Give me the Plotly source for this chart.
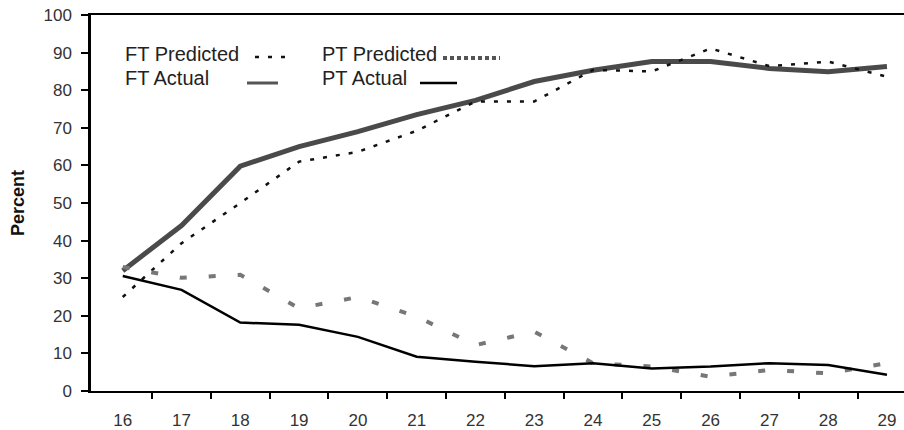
import plotly.graph_objects as go

ages = [16, 17, 18, 19, 20, 21, 22, 23, 24, 25, 26, 27, 28, 29]
tick_labels = [str(a) for a in ages]
ft_predicted = [25, 39.3, 50, 61, 63.6, 69.2, 77, 77, 85.4, 85, 91.1, 86.4, 87.6, 83.6]
ft_actual = [32, 44, 59.8, 65, 69, 73.5, 77.3, 82.3, 85.3, 87.6, 87.6, 85.8, 84.9, 86.3]
pt_predicted = [33, 30.1, 30.9, 22, 25, 19.8, 12.2, 15.8, 7.4, 6.5, 3.8, 5.6, 4.7, 7.4]
pt_actual = [30.6, 26.9, 18.2, 17.6, 14.4, 9.1, 7.8, 6.6, 7.4, 6.0, 6.5, 7.4, 6.9, 4.3]
y_ticks = list(range(0, 101, 10))

FONT = "Liberation Sans, Arial, sans-serif"

fig = go.Figure()
fig.add_trace(go.Scatter(x=ages, y=ft_actual, mode="lines", name="FT Actual",
                         line=dict(color="#4a4a4a", width=5)))
fig.add_trace(go.Scatter(x=ages, y=ft_predicted, mode="lines", name="FT Predicted",
                         line=dict(color="#111", width=2.5, dash="4px,9px")))
fig.add_trace(go.Scatter(x=ages, y=pt_predicted, mode="lines", name="PT Predicted",
                         line=dict(color="#777", width=4, dash="7px,22px")))
fig.add_trace(go.Scatter(x=ages, y=pt_actual, mode="lines", name="PT Actual",
                         line=dict(color="#000", width=2.5)))

L, T, B = 91, 15, 39
W, H = 904, 430
pw, ph = W - L, H - T - B


def px(xp):
    return (xp - L) / pw


def py(yp):
    return (H - B - yp) / ph


legend = [
    ("FT Predicted", 123, 54, 255, 293, 57, dict(color="#111", width=2.5, dash="4px,9px")),
    ("FT Actual", 123, 78, 247, 278, 83, dict(color="#555", width=3)),
    ("PT Predicted", 320, 54, 443, 500, 58, dict(color="#555", width=4, dash="4px,3px")),
    ("PT Actual", 320, 78, 420, 457, 83, dict(color="#000", width=2.5)),
]
for text, tx, ty, x0, x1, ly, lstyle in legend:
    fig.add_annotation(text=text, xref="paper", yref="paper", x=px(tx), y=py(ty),
                       xanchor="left", yanchor="middle", showarrow=False,
                       font=dict(family=FONT, size=20, color="#222"))
    fig.add_shape(type="line", xref="paper", yref="paper", x0=px(x0), x1=px(x1),
                  y0=py(ly), y1=py(ly), line=lstyle)

fig.update_layout(
    width=W, height=H,
    margin=dict(l=L, r=0, t=T, b=B, pad=0),
    paper_bgcolor="white", plot_bgcolor="white",
    showlegend=False,
    font=dict(family=FONT, size=17, color="#333"),
    xaxis=dict(
        range=[15.46, 29.29], tickvals=ages, ticktext=tick_labels,
        ticks="", ticklabelstandoff=13, showgrid=False, zeroline=False,
        showline=True, linecolor="#000", linewidth=2, mirror=True, automargin=False,
        minor=dict(tickvals=[a + 0.5 for a in ages[:-1]], ticks="outside",
                   ticklen=6, tickcolor="#000", tickwidth=1.5, showgrid=False),
    ),
    yaxis=dict(
        range=[0, 100], tickvals=y_ticks, ticks="outside", ticklen=7,
        tickcolor="#000", tickwidth=1.5, ticklabelstandoff=6, automargin=False,
        showgrid=False, zeroline=False, showline=True, linecolor="#000", linewidth=2.5,
        title=dict(text="<b>Percent</b>", font=dict(family=FONT, size=18, color="#111"),
                   standoff=15),
    ),
)

fig.write_html("out.html", config={"displayModeBar": False},
               post_script="document.body.style.margin='0';document.body.style.overflow='hidden';")
